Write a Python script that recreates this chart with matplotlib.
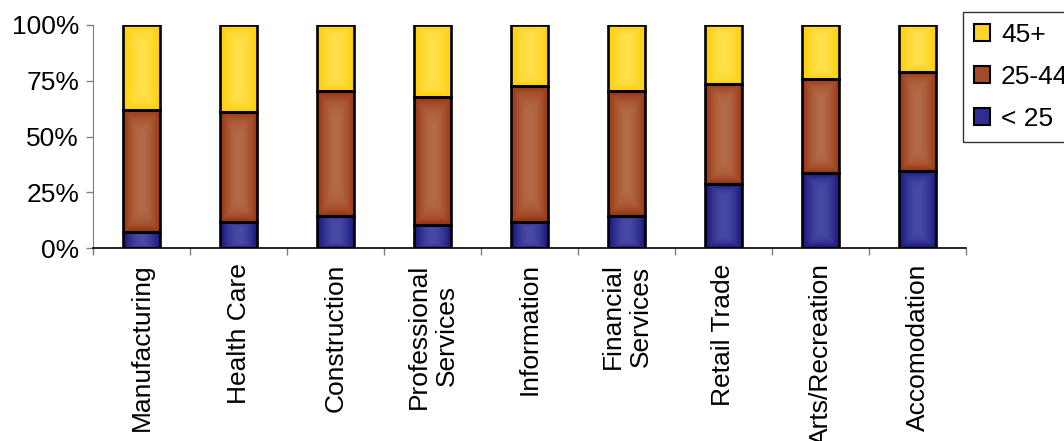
import numpy as np
import matplotlib.pyplot as plt
from matplotlib.colors import LinearSegmentedColormap
from matplotlib.patches import Patch, Rectangle

plt.rcParams['font.family'] = ['Liberation Sans', 'DejaVu Sans']

industries = ['Manufacturing', 'Health Care', 'Construction', 'Professional\nServices',
              'Information', 'Financial\nServices', 'Retail Trade', 'Arts/Recreation',
              'Accomodation']
under_25 = [7, 11.5, 14.5, 10.5, 11.5, 14.5, 28.5, 33.5, 34.5]
age_25_44 = [55, 49.5, 56, 57, 61, 56, 45, 42.5, 44.5]
age_45_plus = [38, 39, 29.5, 32.5, 27.5, 29.5, 26.5, 24, 21]
series_names = ['< 25', '25-44', '45+']

# (edge colour, centre colour) for the shaded bars
shades = [('#14147a', '#4a4aa6'), ('#973210', '#b46c48'), ('#ffcc00', '#ffe04d')]
flat = ['#2e2e90', '#a34c2a', '#ffd42a']

fig = plt.figure(figsize=(10.64, 4.41), dpi=100)
ax = fig.add_axes([93 / 1064, 1 - 248 / 441, (966 - 93) / 1064, (248 - 25) / 441])

x = np.arange(len(industries))
width = 0.39

# pillow-shaped gradient used inside every bar segment
u = np.linspace(-1, 1, 60)
U, V = np.meshgrid(u, u)
grad = np.clip(np.maximum(np.abs(U) ** 1.6, np.abs(V) ** 6), 0, 1)

bottom = np.zeros(len(industries))
for vals, (edge, centre), name in zip([under_25, age_25_44, age_45_plus], shades, series_names):
    cmap = LinearSegmentedColormap.from_list(name, [centre, edge])
    bars = ax.bar(x, vals, width, bottom=bottom, color=edge, edgecolor='none', zorder=2)
    for b in bars:
        x0, y0, w, h = b.get_x(), b.get_y(), b.get_width(), b.get_height()
        im = ax.imshow(grad, cmap=cmap, extent=[x0, x0 + w, y0, y0 + h],
                       aspect='auto', zorder=2.5, vmin=0, vmax=1)
        im.set_clip_path(b)
        ax.add_patch(Rectangle((x0, y0), w, h, fill=False, edgecolor='black',
                               linewidth=1.9, zorder=3))
    bottom += np.array(vals)

ax.set_xlim(-0.5, len(industries) - 0.5)
ax.set_ylim(0, 100)
ax.set_yticks([0, 25, 50, 75, 100])
ax.set_yticklabels(['0%', '25%', '50%', '75%', '100%'])
ax.set_xticks(x)
ax.set_xticklabels(industries, rotation=90, ha='center', va='top', multialignment='center')
ax.set_xticks(np.arange(-0.5, len(industries)), minor=True)
ax.tick_params(axis='x', which='major', length=0, pad=11, labelsize=19)
ax.tick_params(axis='x', which='minor', length=5, width=1, color='#808080', direction='out')
ax.tick_params(axis='y', length=5, width=1, color='#808080', labelsize=19, pad=5)

for s in ['top', 'right']:
    ax.spines[s].set_visible(False)
ax.spines['left'].set_color('#808080')
ax.spines['bottom'].set_color('black')
ax.spines['bottom'].set_linewidth(1.2)

handles = [Patch(facecolor=flat[i], edgecolor='black', linewidth=1.5, label=series_names[i])
           for i in [2, 1, 0]]
leg = fig.legend(handles=handles, loc='upper left', bbox_to_anchor=(963 / 1064, 1 - 12 / 441),
                 bbox_transform=fig.transFigure, fontsize=19, frameon=True, fancybox=False,
                 edgecolor='black', handlelength=0.62, handleheight=0.62, handletextpad=0.4,
                 labelspacing=0.68, borderpad=0.42, borderaxespad=0)
leg.get_frame().set_linewidth(1.0)

fig.savefig('out.png', dpi=100)
